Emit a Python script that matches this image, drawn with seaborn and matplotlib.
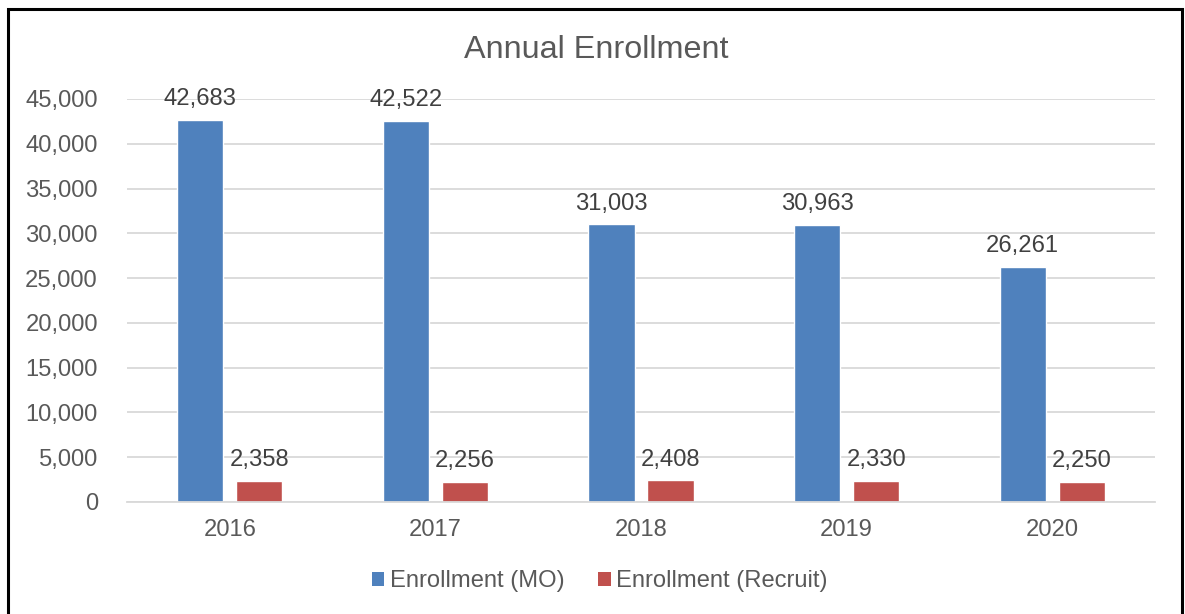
import matplotlib
matplotlib.use("Agg")
import matplotlib.pyplot as plt
import seaborn as sns
import pandas as pd
from matplotlib.patches import Rectangle, Patch
from matplotlib.ticker import FuncFormatter

years = ["2016", "2017", "2018", "2019", "2020"]
mo_values = [42683, 42522, 31003, 30963, 26261]
recruit_values = [2358, 2256, 2408, 2330, 2250]
series_names = ["Enrollment (MO)", "Enrollment (Recruit)"]
colors = ["#4F81BD", "#C0504D"]

df = pd.DataFrame({
    "Year": years * 2,
    "Series": [series_names[0]] * len(years) + [series_names[1]] * len(years),
    "Value": mo_values + recruit_values,
})

sns.set_theme(style="white")
plt.rcParams["font.family"] = ["Liberation Sans", "DejaVu Sans"]
text_color = "#595959"
fs = 17.1

fig = plt.figure(figsize=(11.85, 6.14), dpi=100)
ax = fig.add_axes([127 / 1185, 1 - 502 / 614, (1155 - 127) / 1185, (502 - 99) / 614])

sns.barplot(data=df, x="Year", y="Value", hue="Series", order=years,
            hue_order=series_names, palette=dict(zip(series_names, colors)),
            width=0.574, gap=0.22, saturation=1, ax=ax, legend=False)

for cont in ax.containers:
    ax.bar_label(cont, labels=[f"{v:,.0f}" for v in cont.datavalues],
                 padding=7, fontsize=fs, color="#404040")

ax.set_ylim(0, 45000)
ax.set_yticks(range(0, 45001, 5000))
ax.yaxis.set_major_formatter(FuncFormatter(lambda v, p: f"{int(v):,}"))
ax.set_xlim(-0.5, 4.5)
ax.grid(axis="y", color="#D9D9D9", linewidth=1.3)
ax.set_axisbelow(True)
for s in ["top", "right", "left"]:
    ax.spines[s].set_visible(False)
ax.spines["bottom"].set_color("#D9D9D9")
ax.spines["bottom"].set_linewidth(1.3)
ax.tick_params(axis="y", length=0, pad=21, labelsize=fs, labelcolor=text_color)
ax.tick_params(axis="x", length=0, pad=12, labelsize=fs, labelcolor=text_color)
ax.set_xlabel("")
ax.set_ylabel("")

fig.text(596 / 1185, 1 - 58 / 614, "Annual Enrollment", ha="center", va="baseline",
         fontsize=23.3, color=text_color)

handles = [Patch(facecolor=c, edgecolor="none") for c in colors]
fig.legend(handles, series_names, loc="center", bbox_to_anchor=(600 / 1185, 1 - 581 / 614),
           ncol=2, frameon=False, fontsize=fs, labelcolor=text_color,
           handlelength=0.52, handleheight=0.52, handletextpad=0.25, columnspacing=1.4)

fig.patches.append(Rectangle((8 / 1185, -0.05), (1182 - 8) / 1185, 1.05 - 9 / 614,
                             transform=fig.transFigure, fill=False, edgecolor="black",
                             linewidth=2.2))

fig.savefig("out.png", dpi=100)
